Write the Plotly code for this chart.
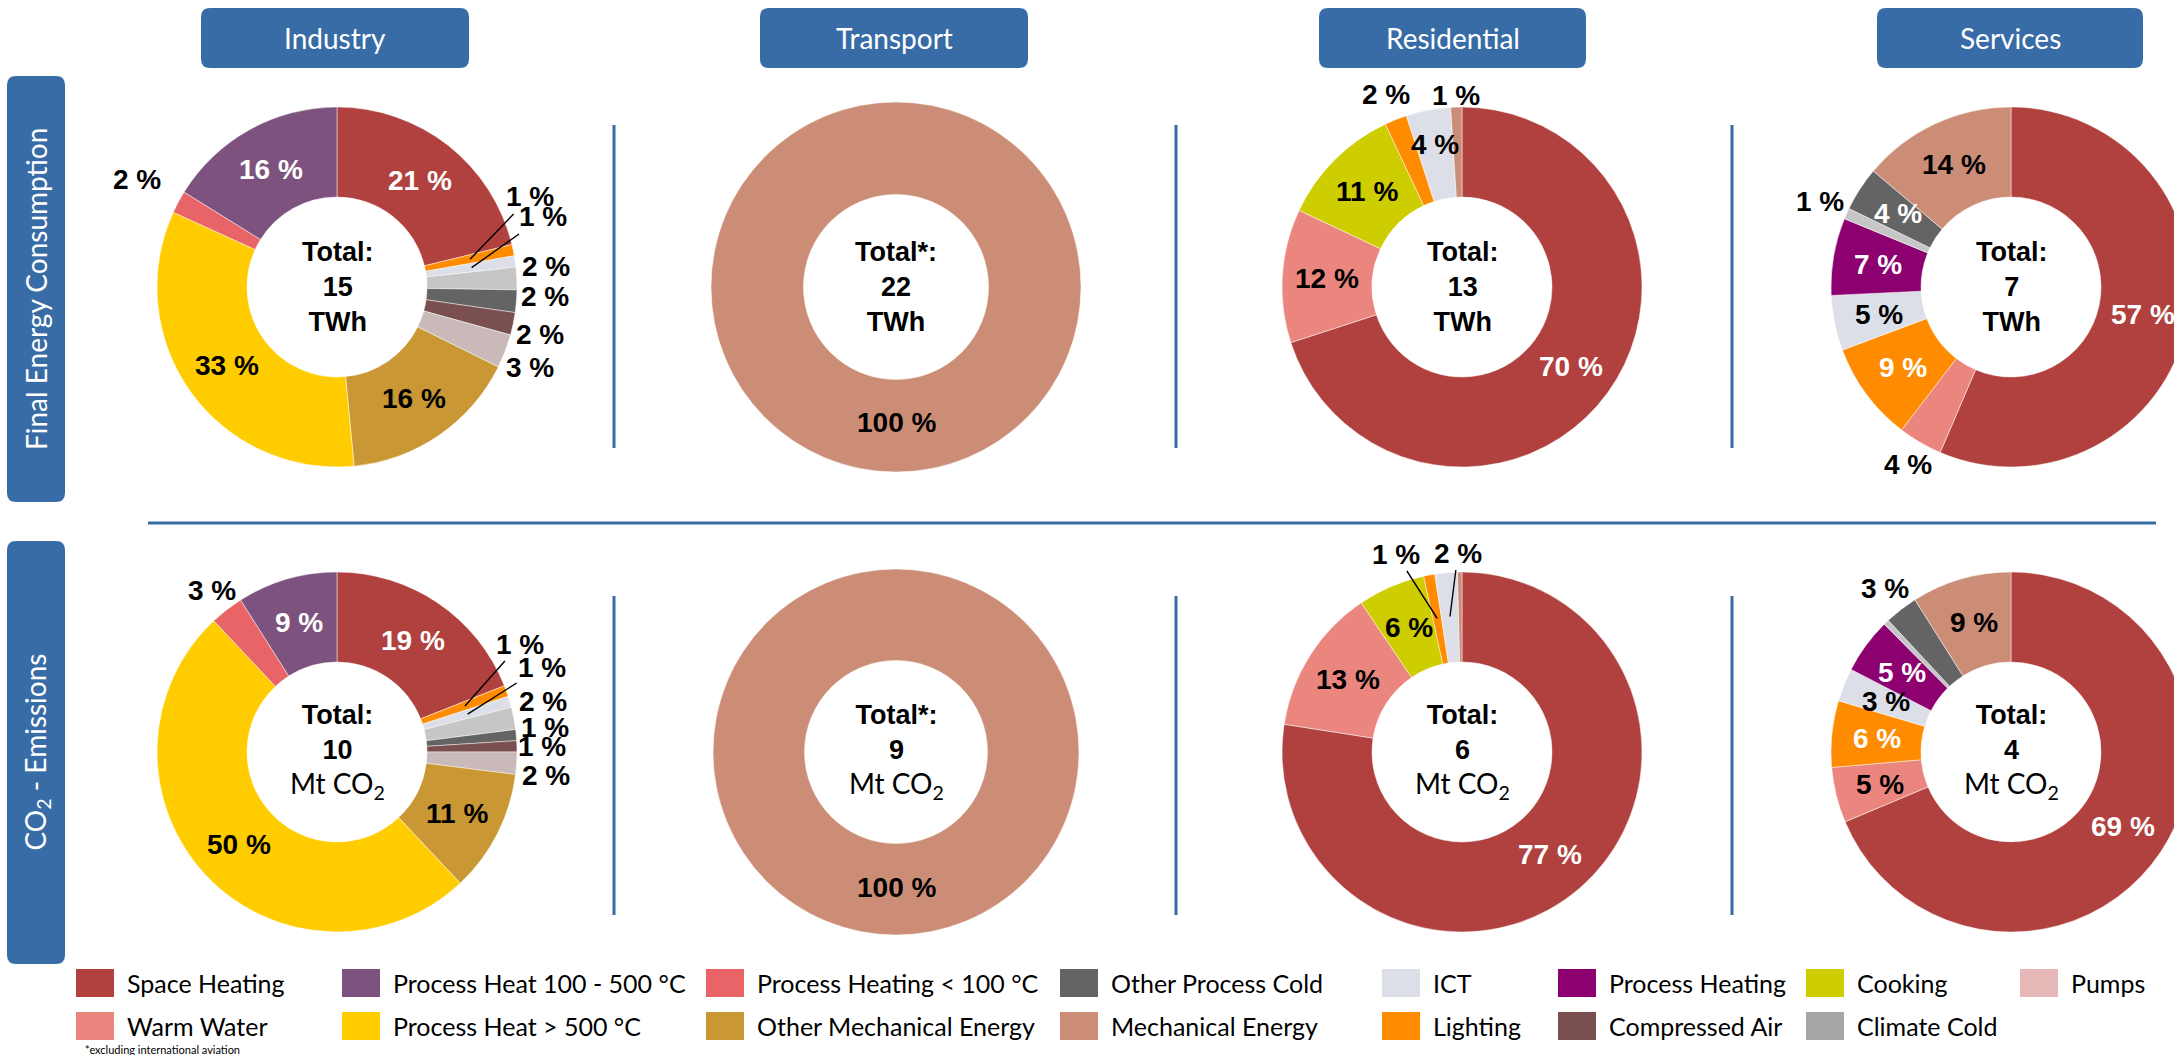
import math
import plotly.graph_objects as go

# ---------------- data ----------------
SECTORS = ["Industry", "Transport", "Residential", "Services"]
ROW_TITLES = ["Final Energy Consumption", "CO<sub>2</sub> - Emissions"]

ind_cats = ["Space Heating", "Lighting", "ICT", "Climate Cold", "Other Process Cold",
            "Compressed Air", "Pumps", "Other Mechanical Energy", "Process Heat > 500 °C",
            "Process Heating < 100 °C", "Process Heat 100 - 500 °C"]
ind_fec_vals = [21, 1, 1, 2, 2, 2, 3, 16, 33, 2, 16]
ind_co2_vals = [19, 1, 1, 2, 1, 1, 2, 11, 50, 3, 9]

tra_cats = ["Mechanical Energy"]
tra_fec_vals = [100]
tra_co2_vals = [100]

res_cats = ["Space Heating", "Warm Water", "Cooking", "Lighting", "ICT", "Mechanical Energy"]
res_fec_vals = [70, 12, 11, 2, 4, 1]
res_co2_vals = [77, 13, 6, 1, 2, 0.4]

ser_cats = ["Space Heating", "Warm Water", "Lighting", "ICT", "Process Heating",
            "Climate Cold", "Other Process Cold", "Mechanical Energy"]
ser_fec_vals = [57, 4, 9, 5, 7, 1, 4, 14]
ser_co2_vals = [69, 5, 6, 3, 5, 0.5, 3, 9]

total_heads = ["Total:", "Total*:", "Total:", "Total:"]
fec_totals = ["15", "22", "13", "7"]
co2_totals = ["10", "9", "6", "4"]

legend_row1 = ["Space Heating", "Process Heat 100 - 500 °C", "Process Heating < 100 °C",
               "Other Process Cold", "ICT", "Process Heating", "Cooking", "Pumps"]
legend_row2 = ["Warm Water", "Process Heat > 500 °C", "Other Mechanical Energy",
               "Mechanical Energy", "Lighting", "Compressed Air", "Climate Cold"]
footnote = "*excluding international aviation"

# ---------------- styles ----------------
COLORS = {
    "Space Heating": "#B0413F",
    "Process Heat 100 - 500 °C": "#7E527E",
    "Process Heating < 100 °C": "#E96466",
    "Other Process Cold": "#646464",
    "ICT": "#DCDFE7",
    "Process Heating": "#8C006F",
    "Cooking": "#CDCD00",
    "Pumps": "#E6B8B7",
    "Warm Water": "#EB867F",
    "Process Heat > 500 °C": "#FFCC00",
    "Other Mechanical Energy": "#C99734",
    "Mechanical Energy": "#CC8D76",
    "Lighting": "#FF8C00",
    "Compressed Air": "#7A4F4F",
    "Climate Cold": "#A6A6A6",
}
PIE_COLORS = dict(COLORS)
PIE_COLORS["Climate Cold"] = "#C6C6C6"
PIE_COLORS["Pumps"] = "#C9B9B8"

BLUE = "#386CA6"
W, H = 2200, 1055
CX = [337, 896, 1462, 2011]
CY = [287, 752]
RADII = [[180, 185, 180, 180], [180, 183, 180, 180]]
LBL_FONT = "Arial, Liberation Sans, sans-serif"
TXT_FONT = "Lato, sans-serif"
LBL_SIZE = 28
TOT_SIZE = 27

# label styles: "w"/"b" inside (white/black), ("in", color, rho), ("out", rho, dy),
# ("lead", dx, dy) text offset from centre with leader, None = no label
STY = {
    (0, 0): ["w", ("lead", 193, -90), ("lead", 206, -70), ("out", 209, -11), ("out", 209, -7),
             ("out", 207, 5), ("out", 207, 7), "b", "b", ("out", 227, 0), "w"],
    (1, 0): ["w", ("lead", 183, -108), ("lead", 205, -85), ("out", 210, -11), ("out", 209, -5),
             ("out", 205, 1), ("out", 209, 10), "b", "b", ("out", 204, 0), "w"],
    (0, 1): ["b"],
    (1, 1): ["b"],
    (0, 2): ["w", "b", "b", ("out", 207, 0), ("in", "black", 145), ("out", 192, 0)],
    (1, 2): ["w", "b", "b", ("lead", -66, -198), ("lead", -4, -199), None],
    (0, 3): ["w", ("out", 205, 0), "w", "b", "w", ("out", 209, 0), "w", "b"],
    (1, 3): ["w", "b", "w", "b", "w", None, ("out", 207, 0), "b"],
}

DATA = {
    (0, 0): (ind_cats, ind_fec_vals), (1, 0): (ind_cats, ind_co2_vals),
    (0, 1): (tra_cats, tra_fec_vals), (1, 1): (tra_cats, tra_co2_vals),
    (0, 2): (res_cats, res_fec_vals), (1, 2): (res_cats, res_co2_vals),
    (0, 3): (ser_cats, ser_fec_vals), (1, 3): (ser_cats, ser_co2_vals),
}


def px(x):
    return x / W


def py(y):
    return 1 - y / H


fig = go.Figure()
annotations = []
shapes = []

for (row, col), (cats, vals) in DATA.items():
    cx, cy = CX[col], CY[row]
    r = RADII[row][col]
    fig.add_trace(go.Pie(
        labels=cats, values=vals, sort=False, direction="clockwise", rotation=0,
        hole=0.5, textinfo="none", hoverinfo="label+percent", showlegend=False,
        marker=dict(colors=[PIE_COLORS[c] for c in cats], line=dict(color="rgba(255,255,255,0.6)", width=0.8)),
        domain=dict(x=[px(cx - r), px(cx + r)], y=[py(cy + r), py(cy - r)]),
    ))
    total = sum(vals)
    cum = 0
    for v, st in zip(vals, STY[(row, col)]):
        mid = 2 * math.pi * (cum + v / 2) / total
        cum += v
        if st is None:
            continue
        txt = "<b>%d %%</b>" % round(v)
        s, c = math.sin(mid), math.cos(mid)
        if st in ("w", "b") or st[0] == "in":
            if st in ("w", "b"):
                color = "white" if st == "w" else "black"
                rho = 135
            else:
                color, rho = st[1], st[2]
            annotations.append(dict(x=px(cx + rho * s), y=py(cy - rho * c), text=txt, showarrow=False,
                                    font=dict(family=LBL_FONT, size=LBL_SIZE, color=color),
                                    xanchor="center", yanchor="middle"))
        elif st[0] == "out":
            rho, ddy = st[1], st[2]
            annotations.append(dict(x=px(cx + rho * s), y=py(cy - rho * c + ddy), text=txt, showarrow=False,
                                    font=dict(family=LBL_FONT, size=LBL_SIZE, color="black"),
                                    xanchor="center", yanchor="middle"))
        elif st[0] == "lead":
            tipx, tipy = cx + 136 * s, cy - 136 * c
            tx, ty = cx + st[1], cy + st[2]
            annotations.append(dict(x=px(tipx), y=py(tipy), text=txt, showarrow=True,
                                    ax=tx - tipx, ay=ty - tipy, arrowhead=0, arrowwidth=1.4,
                                    arrowcolor="black", standoff=0, startstandoff=0,
                                    font=dict(family=LBL_FONT, size=LBL_SIZE, color="black")))

# centre totals
for col in range(4):
    annotations.append(dict(
        x=px(CX[col]), y=py(CY[0]), showarrow=False, xanchor="center", yanchor="middle",
        text="<b>%s<br>%s<br>TWh</b>" % (total_heads[col], fec_totals[col]),
        font=dict(family=LBL_FONT, size=TOT_SIZE, color="black")))
    annotations.append(dict(
        x=px(CX[col]), y=py(CY[1]), showarrow=False, xanchor="center", yanchor="middle",
        text="<b>%s<br>%s</b><br><span style='font-family:Lato;font-size:28px'>Mt CO<sub>2</sub></span>"
             % (total_heads[col], co2_totals[col]),
        font=dict(family=LBL_FONT, size=TOT_SIZE, color="black")))


def rrect(x0, y0, x1, y1, rad):
    pts = [
        ("M", [(x0 + rad, y0)]), ("L", [(x1 - rad, y0)]), ("Q", [(x1, y0), (x1, y0 + rad)]),
        ("L", [(x1, y1 - rad)]), ("Q", [(x1, y1), (x1 - rad, y1)]), ("L", [(x0 + rad, y1)]),
        ("Q", [(x0, y1), (x0, y1 - rad)]), ("L", [(x0, y0 + rad)]), ("Q", [(x0, y0), (x0 + rad, y0)]),
    ]
    out = []
    for cmd, ps in pts:
        out.append(cmd + " ".join("%.6f,%.6f" % (px(a), py(b)) for a, b in ps))
    return " ".join(out) + " Z"


# header boxes
HEAD_X = [(201, 469), (760, 1028), (1319, 1586), (1877, 2143)]
for name, (x0, x1) in zip(SECTORS, HEAD_X):
    shapes.append(dict(type="path", xref="paper", yref="paper", path=rrect(x0, 8, x1, 68, 9),
                       fillcolor=BLUE, line=dict(width=0)))
    annotations.append(dict(x=px((x0 + x1) / 2), y=py(38), text=name, showarrow=False,
                            font=dict(family=TXT_FONT, size=28, color="white"),
                            xanchor="center", yanchor="middle"))

# row boxes
ROW_Y = [(76, 502), (541, 964)]
for name, (y0, y1) in zip(ROW_TITLES, ROW_Y):
    shapes.append(dict(type="path", xref="paper", yref="paper", path=rrect(7, y0, 65, y1, 9),
                       fillcolor=BLUE, line=dict(width=0)))
    annotations.append(dict(x=px(36), y=py((y0 + y1) / 2), text=name, showarrow=False, textangle=-90,
                            font=dict(family=TXT_FONT, size=28, color="white"),
                            xanchor="center", yanchor="middle"))

# separators
shapes.append(dict(type="line", xref="paper", yref="paper", x0=px(148), x1=px(2156), y0=py(523), y1=py(523),
                   line=dict(color=BLUE, width=3)))
for xs in (614, 1176, 1732):
    shapes.append(dict(type="line", xref="paper", yref="paper", x0=px(xs), x1=px(xs), y0=py(125), y1=py(448),
                       line=dict(color=BLUE, width=3)))
    shapes.append(dict(type="line", xref="paper", yref="paper", x0=px(xs), x1=px(xs), y0=py(596), y1=py(915),
                       line=dict(color=BLUE, width=3)))

# legend
LEG_X = [76, 342, 706, 1060, 1382, 1558, 1806, 2020]
LEG_Y = [983, 1026]
for rowi, items in enumerate([legend_row1, legend_row2]):
    for i, name in enumerate(items):
        x0 = LEG_X[i]
        yc = LEG_Y[rowi]
        shapes.append(dict(type="rect", xref="paper", yref="paper", x0=px(x0), x1=px(x0 + 38),
                           y0=py(yc + 14), y1=py(yc - 14), fillcolor=COLORS[name], line=dict(width=0)))
        annotations.append(dict(x=px(x0 + 49), y=py(yc), text=name, showarrow=False,
                                font=dict(family=TXT_FONT, size=25, color="black"),
                                xanchor="left", yanchor="middle"))

annotations.append(dict(x=px(83), y=py(1049), text=footnote, showarrow=False,
                        font=dict(family=TXT_FONT, size=11, color="black"),
                        xanchor="left", yanchor="middle"))

fig.update_layout(
    width=W, height=H, margin=dict(l=0, r=0, t=0, b=0),
    paper_bgcolor="white", plot_bgcolor="white",
    annotations=annotations, shapes=shapes, showlegend=False,
)

fig.write_html("out.html", config={"displayModeBar": False},
               post_script="document.body.style.margin='0';document.body.style.overflow='hidden';")
